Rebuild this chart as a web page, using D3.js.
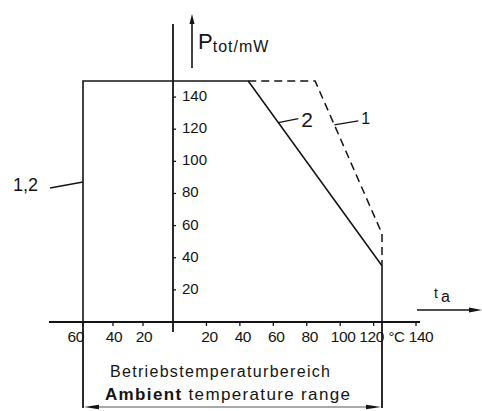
<!DOCTYPE html>
<html>
<head>
<meta charset="utf-8">
<script src="https://cdn.jsdelivr.net/npm/d3@7"></script>
<style>
  html, body { margin: 0; padding: 0; background: #fff; }
  svg { display: block; font-family: "Liberation Sans", Arial, sans-serif; }
</style>
</head>
<body>
<svg id="chart" width="482" height="411"></svg>
<script>
// Temperature axis (°C) and power axis (mW)
const tempTicksNeg = [-60, -40, -20];
const tempTicksPos = [20, 40, 60, 80, 100, 120, 140];
const powerTicks = [20, 40, 60, 80, 100, 120, 140];

// Derating curves: [ambient temperature °C, Ptot mW]
const curve2 = [[-60, 0], [-60, 150], [45, 150], [125, 35], [125, 0]];
const curve1 = [[45, 150], [85, 150], [125, 55], [125, 35]];

// Operating temperature range limits (°C)
const rangeLimits = [-60, 125];

const svg = d3.select("#chart");
const ink = "#141414";

// The negative temperature side of the drawing is compressed relative to the positive side
const x = d3.scaleLinear().domain([-60, 0, 125, 140]).range([83, 173, 382, 416]);
const y = d3.scaleLinear().domain([0, 150]).range([322, 81]);

const line = d3.line().x(d => x(d[0])).y(d => y(d[1]));
const bottomY = 407;

// Axes
svg.append("line").attr("x1", 49).attr("x2", 420).attr("y1", y(0)).attr("y2", y(0))
  .attr("stroke", ink).attr("stroke-width", 1.8);
svg.append("line").attr("x1", x(0)).attr("x2", x(0)).attr("y1", 24).attr("y2", y(0) + 10)
  .attr("stroke", ink).attr("stroke-width", 1.8);

// Temperature ticks and labels (labels nudged so they clear the limit line and the unit)
const allTemp = tempTicksNeg.concat(tempTicksPos);
const labelNudge = d => d < 0 ? 1 : d === 120 ? -2 : d === 140 ? 5 : 3;
svg.selectAll(".xt").data(allTemp).join("line")
  .attr("x1", d => x(d)).attr("x2", d => x(d))
  .attr("y1", y(0)).attr("y2", y(0) + 4)
  .attr("stroke", ink).attr("stroke-width", 1.3);
svg.selectAll(".xl").data(allTemp).join("text")
  .attr("x", d => x(d))
  .attr("dx", labelNudge)
  .attr("y", 342)
  .attr("text-anchor", d => d === -60 ? "end" : "middle")
  .attr("font-size", 15.5).attr("letter-spacing", -0.4).attr("fill", ink)
  .text(d => Math.abs(d));
svg.append("text").attr("x", x(130)).attr("dx", 3).attr("y", 342)
  .attr("text-anchor", "middle").attr("font-size", 15).attr("letter-spacing", -0.5)
  .attr("fill", ink).text("°C");

// Power ticks and labels
svg.selectAll(".yt").data(powerTicks).join("line")
  .attr("x1", x(0)).attr("x2", x(0) + 3)
  .attr("y1", d => y(d)).attr("y2", d => y(d))
  .attr("stroke", ink).attr("stroke-width", 1.3);
svg.selectAll(".yl").data(powerTicks).join("text")
  .attr("x", x(0) + 9).attr("y", d => y(d) + 4)
  .attr("font-size", 15).attr("fill", ink)
  .text(d => d);

// Axis arrows
function arrowHead(tipX, tipY, dir, len, half) {
  // dir: unit vector pointing from base to tip
  const [dx, dy] = dir;
  const bx = tipX - dx * len, by = tipY - dy * len;
  const px = -dy * half, py = dx * half;
  return `M${tipX},${tipY}L${bx + px},${by + py}L${bx - px},${by - py}Z`;
}
svg.append("line").attr("x1", 192).attr("x2", 192).attr("y1", 68).attr("y2", 20)
  .attr("stroke", ink).attr("stroke-width", 1.6);
svg.append("path").attr("d", arrowHead(192, 14, [0, -1], 10, 2.5)).attr("fill", ink);

svg.append("line").attr("x1", 417).attr("x2", 472).attr("y1", 310).attr("y2", 310)
  .attr("stroke", ink).attr("stroke-width", 1.6);
svg.append("path").attr("d", arrowHead(482, 310, [1, 0], 13, 2.5)).attr("fill", ink);

// Axis titles
const pt = svg.append("text").attr("x", 198).attr("y", 49).attr("fill", ink);
pt.append("tspan").attr("font-size", 22).text("P");
pt.append("tspan").attr("font-size", 16).attr("dy", 3).attr("letter-spacing", 1).text("tot/mW");

const ta = svg.append("text").attr("x", 434).attr("y", 298).attr("fill", ink);
ta.append("tspan").attr("font-size", 14).text("t");
ta.append("tspan").attr("font-size", 16).attr("dx", 3).attr("dy", 4).text("a");

// Curves
svg.append("path").attr("d", line(curve2))
  .attr("fill", "none").attr("stroke", ink).attr("stroke-width", 1.6);
svg.append("path").attr("d", line(curve1))
  .attr("fill", "none").attr("stroke", ink).attr("stroke-width", 1.5)
  .attr("stroke-dasharray", "8,5");

// Range limit verticals below the axis
svg.selectAll(".rl").data(rangeLimits).join("line")
  .attr("x1", d => x(d)).attr("x2", d => x(d))
  .attr("y1", y(0)).attr("y2", bottomY + 1)
  .attr("stroke", ink).attr("stroke-width", 1.8);

// Double arrow for the operating range
svg.append("line").attr("x1", x(rangeLimits[0]) + 8).attr("x2", x(rangeLimits[1]) - 8)
  .attr("y1", bottomY).attr("y2", bottomY)
  .attr("stroke", "#555").attr("stroke-width", 1.2);
svg.append("path").attr("d", arrowHead(x(rangeLimits[0]) + 1, bottomY, [-1, 0], 15, 2.2)).attr("fill", ink);
svg.append("path").attr("d", arrowHead(x(rangeLimits[1]) - 1, bottomY, [1, 0], 15, 2.2)).attr("fill", ink);

svg.append("text").attr("x", 110).attr("y", 377)
  .attr("font-size", 16).attr("fill", ink)
  .attr("textLength", 220).attr("lengthAdjust", "spacing")
  .text("Betriebstemperaturbereich");
const amb = svg.append("text").attr("x", 105).attr("y", 400)
  .attr("font-size", 17).attr("fill", ink)
  .attr("textLength", 245).attr("lengthAdjust", "spacing");
amb.append("tspan").attr("font-weight", "bold").text("Ambient");
amb.append("tspan").text(" temperature range");

// Curve labels with leader lines
function pointOn(seg, t) {
  const [[t0, p0], [t1, p1]] = seg;
  return [t, p0 + (p1 - p0) * (t - t0) / (t1 - t0)];
}
const c2pt = pointOn([curve2[2], curve2[3]], 63);
svg.append("line").attr("x1", x(c2pt[0])).attr("y1", y(c2pt[1]))
  .attr("x2", x(c2pt[0]) + 20).attr("y2", y(c2pt[1]) - 4)
  .attr("stroke", ink).attr("stroke-width", 1.3);
svg.append("text").attr("x", x(c2pt[0]) + 23).attr("y", y(c2pt[1]) + 4)
  .attr("font-size", 21).attr("fill", ink).text("2");

const c1pt = pointOn([curve1[1], curve1[2]], 96.5);
svg.append("line").attr("x1", x(c1pt[0])).attr("y1", y(c1pt[1]))
  .attr("x2", x(c1pt[0]) + 24).attr("y2", y(c1pt[1]) - 4)
  .attr("stroke", ink).attr("stroke-width", 1.3);
svg.append("text").attr("x", x(c1pt[0]) + 27).attr("y", y(c1pt[1]) - 1)
  .attr("font-size", 16).attr("fill", ink).text("1");

svg.append("line").attr("x1", 50).attr("y1", 188).attr("x2", x(-60)).attr("y2", 182)
  .attr("stroke", ink).attr("stroke-width", 1.3);
svg.append("text").attr("x", 13).attr("y", 191)
  .attr("font-size", 18).attr("fill", ink).text("1,2");
</script>
</body>
</html>
